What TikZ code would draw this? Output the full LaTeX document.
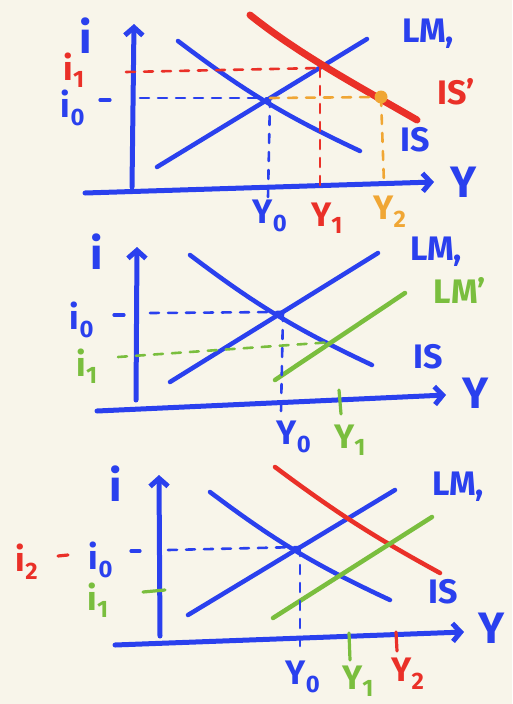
\documentclass[tikz,border=0pt]{standalone}
\usepackage{fontspec}
\setmainfont{Fira Sans}
\usetikzlibrary{arrows.meta}

\definecolor{paper}{RGB}{248,245,234}
\definecolor{inkblue}{RGB}{42,64,238}
\definecolor{inkred}{RGB}{234,48,40}
\definecolor{inkorange}{RGB}{240,166,52}
\definecolor{inkgreen}{RGB}{122,190,62}

\tikzset{
	axis/.style={draw=inkblue, line width=5pt, line cap=round, -{Straight Barb[length=8pt, width=18pt, line width=5pt]}},
	curve/.style={line width=4.5pt, line cap=round},
	shifted/.style={line width=7pt, line cap=round},
	guide/.style={line width=2.6pt, line cap=round, dash pattern=on 9pt off 9pt},
	tick/.style={line width=3.2pt, line cap=round},
	lbl/.style={font=\fontsize{34}{34}\selectfont\bfseries, inner sep=0pt},
	big/.style={font=\fontsize{44}{44}\selectfont\bfseries, inner sep=0pt},
}

\begin{document}
\begin{tikzpicture}[x=1pt, y=-1pt]
	\fill[paper] (0,0) rectangle (512,704);
	\useasboundingbox (0,0) rectangle (512,704);

	% first panel: IS shifts
	\coordinate (O1) at (132,187);
	\coordinate (top1) at (134,24);
	\coordinate (left1) at (85,193);
	\coordinate (right1) at (434,182);
	\coordinate (lmA1) at (157,167);
	\coordinate (lmB1) at (367,39);
	\coordinate (isA1) at (178,41);
	\coordinate (isB1) at (360,151);
	\coordinate (ispA1) at (250,15);
	\coordinate (ispB1) at (417,120);
	\coordinate (E01) at (270,98);
	\coordinate (E11) at (320,68);
	\coordinate (E21) at (381,97);

	\draw[axis] (O1) -- (top1);
	\draw[axis] (left1) -- (right1);
	\draw[curve, inkblue] (lmA1) -- (lmB1);
	\draw[curve, inkblue] (isA1) to[bend right=6] (isB1);
	\draw[shifted, inkred] (ispA1) .. controls (300,55) and (360,87) .. (ispB1);

	\draw[guide, inkblue] (140,98) -- (E01);
	\draw[guide, inkblue] (E01) -- (268,197);
	\draw[guide, inkred] (126,72) -- (E11);
	\draw[guide, inkred] (E11) -- (320,190);
	\draw[guide, inkorange] (E01) -- (E21);
	\draw[guide, inkorange] (E21) -- (384,184);
	\fill[inkorange] (E21) circle (6.5pt);
	\draw[tick, inkblue] (100,100) -- (110,100);

	\node[big, inkblue] (lblI1) at (86,36) {i};
	\node[lbl, inkred] (lblIone1) at (74,70) {i\textsubscript{1}};
	\node[lbl, inkblue] (lblIzero1) at (73,108) {i\textsubscript{0}};
	\node[lbl, inkblue] (lblLM1) at (428,34) {LM,};
	\node[lbl, inkred] (lblISp1) at (456,92) {IS'};
	\node[lbl, inkblue] (lblIS1) at (415,140) {IS};
	\node[big, inkblue] (lblY1) at (464,182) {Y};
	\node[lbl, inkblue] (lblYzero1) at (270,216) {Y\textsubscript{0}};
	\node[lbl, inkred] (lblYone1) at (327,218) {Y\textsubscript{1}};
	\node[lbl, inkorange] (lblYtwo1) at (390,212) {Y\textsubscript{2}};

	% second panel: LM shifts
	\coordinate (O2) at (136,400);
	\coordinate (top2) at (137,247);
	\coordinate (left2) at (97,411);
	\coordinate (right2) at (446,395);
	\coordinate (lmA2) at (170,382);
	\coordinate (lmB2) at (378,253);
	\coordinate (isA2) at (190,255);
	\coordinate (isB2) at (372,365);
	\coordinate (lmpA2) at (275,380);
	\coordinate (lmpB2) at (405,293);
	\coordinate (E02) at (283,312);
	\coordinate (E12) at (333,342);

	\draw[axis] (O2) -- (top2);
	\draw[axis] (left2) -- (right2);
	\draw[curve, inkblue] (lmA2) -- (lmB2);
	\draw[curve, inkblue] (isA2) to[bend right=6] (isB2);
	\draw[curve, inkgreen] (lmpA2) -- (lmpB2);

	\draw[guide, inkblue] (150,313) -- (E02);
	\draw[guide, inkblue] (E02) -- (281,412);
	\draw[guide, inkgreen] (118,357) -- (E12);
	\draw[tick, inkblue] (114,315) -- (124,315);
	\draw[tick, inkgreen] (339,390) -- (341,414);

	\node[big, inkblue] (lblI2) at (97,252) {i};
	\node[lbl, inkblue] (lblIzero2) at (82,320) {i\textsubscript{0}};
	\node[lbl, inkgreen] (lblIone2) at (87,366) {i\textsubscript{1}};
	\node[lbl, inkblue] (lblLM2) at (436,252) {LM,};
	\node[lbl, inkgreen] (lblLMp2) at (460,290) {LM'};
	\node[lbl, inkblue] (lblIS2) at (428,357) {IS};
	\node[big, inkblue] (lblY2) at (476,393) {Y};
	\node[lbl, inkblue] (lblYzero2) at (294,437) {Y\textsubscript{0}};
	\node[lbl, inkgreen] (lblYone2) at (350,440) {Y\textsubscript{1}};

	% third panel: both shift
	\coordinate (O3) at (160,636);
	\coordinate (top3) at (159,475);
	\coordinate (left3) at (115,645);
	\coordinate (right3) at (464,632);
	\coordinate (lmA3) at (188,615);
	\coordinate (lmB3) at (395,490);
	\coordinate (isA3) at (210,492);
	\coordinate (isB3) at (390,600);
	\coordinate (ispA3) at (275,467);
	\coordinate (ispB3) at (440,573);
	\coordinate (lmpA3) at (273,618);
	\coordinate (lmpB3) at (432,517);
	\coordinate (E03) at (300,547);

	\draw[axis] (O3) -- (top3);
	\draw[axis] (left3) -- (right3);
	\draw[curve, inkblue] (lmA3) -- (lmB3);
	\draw[curve, inkblue] (isA3) to[bend right=6] (isB3);
	\draw[curve, inkred] (ispA3) to[bend right=4] (ispB3);
	\draw[curve, inkgreen] (lmpA3) -- (lmpB3);

	\draw[guide, inkblue] (168,550) -- (E03);
	\draw[guide, inkblue] (E03) -- (300,650);
	\draw[tick, inkblue] (131,551) -- (140,551);
	\draw[tick, inkred] (58,556) -- (68,555);
	\draw[tick, inkgreen] (143,592) -- (165,590);
	\draw[tick, inkgreen] (349,633) -- (350,660);
	\draw[tick, inkred] (396,632) -- (397,651);

	\node[big, inkblue] (lblI3) at (116,484) {i};
	\node[lbl, inkred] (lblItwo3) at (27,562) {i\textsubscript{2}};
	\node[lbl, inkblue] (lblIzero3) at (101,560) {i\textsubscript{0}};
	\node[lbl, inkgreen] (lblIone3) at (98,600) {i\textsubscript{1}};
	\node[lbl, inkblue] (lblLM3) at (458,487) {LM,};
	\node[lbl, inkblue] (lblIS3) at (443,592) {IS};
	\node[big, inkblue] (lblY3) at (492,628) {Y};
	\node[lbl, inkblue] (lblYzero3) at (303,677) {Y\textsubscript{0}};
	\node[lbl, inkgreen] (lblYone3) at (358,681) {Y\textsubscript{1}};
	\node[lbl, inkred] (lblYtwo3) at (408,674) {Y\textsubscript{2}};
\end{tikzpicture}
\end{document}
